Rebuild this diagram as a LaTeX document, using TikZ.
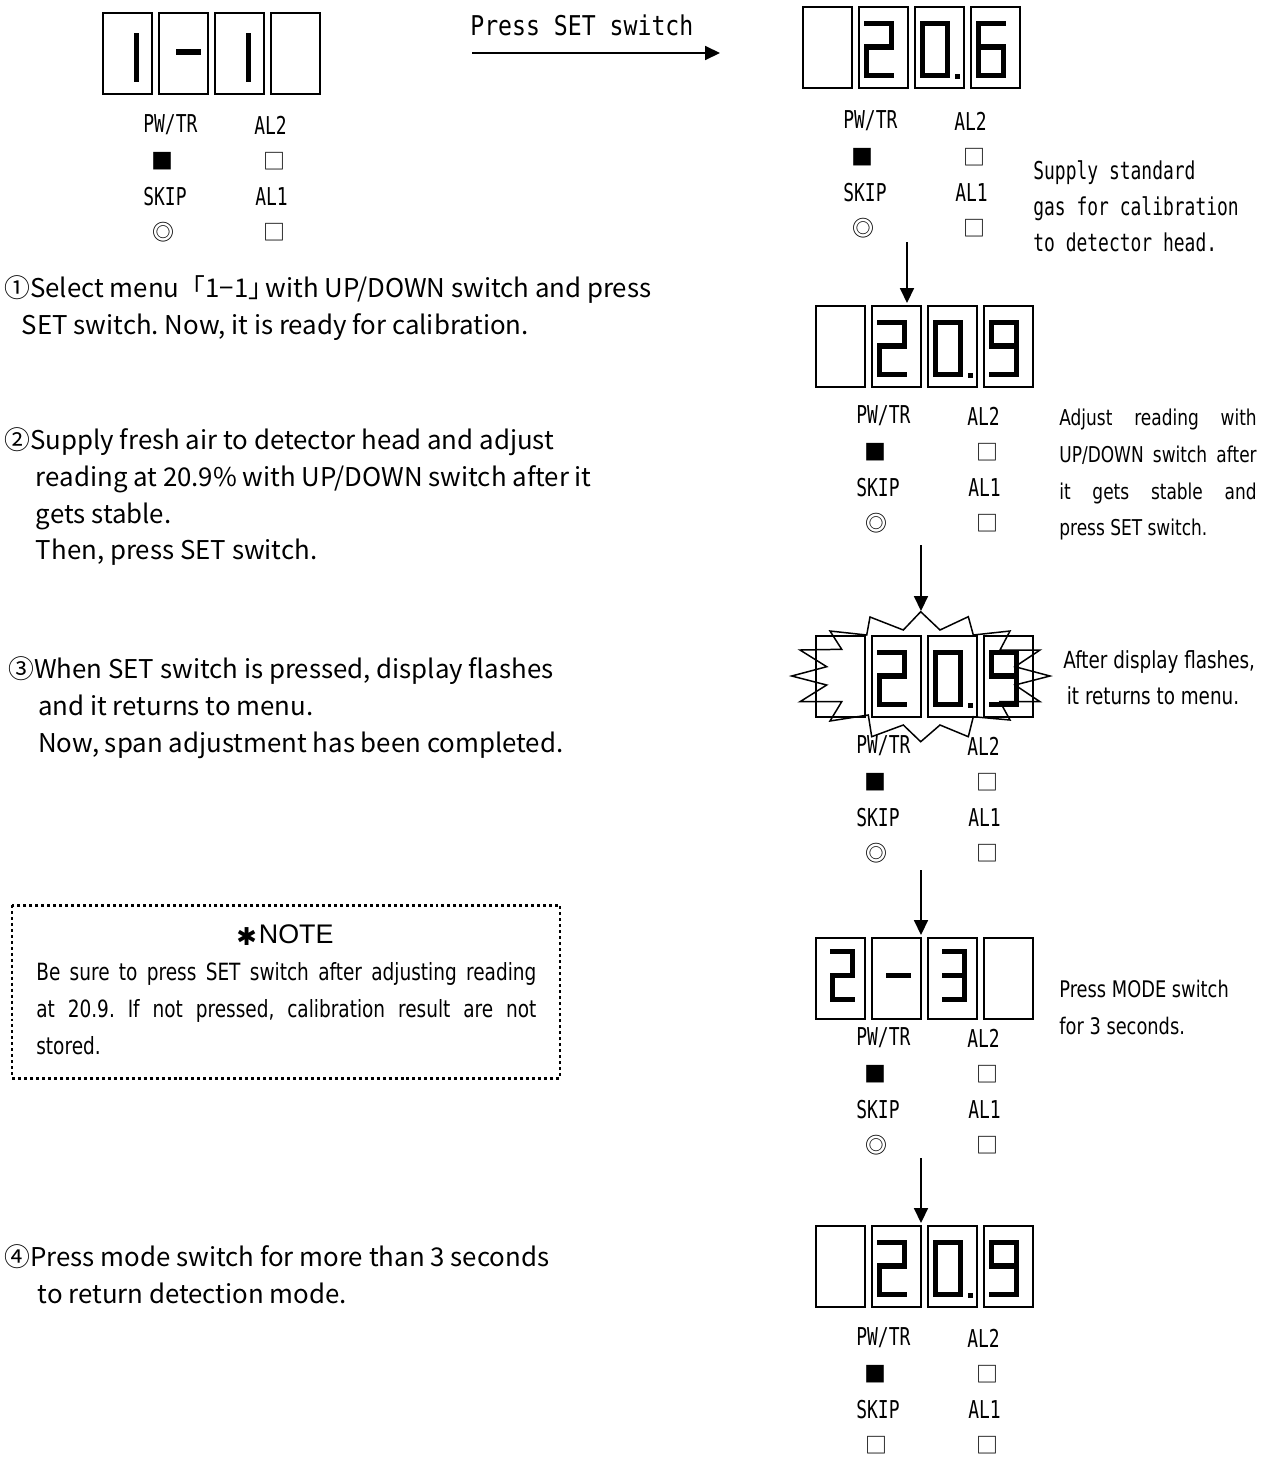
\documentclass[tikz,border=0pt]{standalone}
\usepackage{fontspec}
\usetikzlibrary{arrows.meta}
\newfontfamily\gothic{Noto Sans CJK JP}
\newfontfamily\lcdmono[FakeStretch=0.73]{DejaVu Sans Mono}
\newfontfamily\capmono[FakeStretch=0.85]{DejaVu Sans Mono}
\newfontfamily\narrow[FakeStretch=0.78]{DejaVu Sans}
\newfontfamily\dejavu{DejaVu Sans}
\newfontfamily\arial{Liberation Sans}
\frenchspacing

% seven segments, frame width \dw, height \dh, middle bar at \dm
\newcommand\sega{\draw[segline] (0,0) -- (\dw,0);}
\newcommand\segb{\draw[segline] (\dw,0) -- (\dw,\dm);}
\newcommand\segc{\draw[segline] (\dw,\dm) -- (\dw,\dh);}
\newcommand\segd{\draw[segline] (0,\dh) -- (\dw,\dh);}
\newcommand\sege{\draw[segline] (0,\dm) -- (0,\dh);}
\newcommand\segf{\draw[segline] (0,0) -- (0,\dm);}
\newcommand\segg{\draw[segline] (0,\dm) -- (\dw,\dm);}
\newcommand\lcddigit[3]{%
  \begin{scope}[shift={(#1,#2)}]
    \foreach \sg in {#3} {\csname seg\sg\endcsname}
  \end{scope}}

% four digit boxes and the lamp labels under them
\newcommand\lcdpanel[5]{%
  \foreach \k in {0,...,3}
    \draw[lcdbox] (#2+\k*56,#3) rectangle ++(49,81);
  \node[tag] (#1pw) at (#2+40,#3+#5) {PW/TR};
  \node[tag] (#1al2) at (#2+151,#3+#5) {AL2};
  \node[lamp] (#1run) at (#2+59,#3+#5+36) {■};
  \node[lamp] (#1lamp2) at (#2+171,#3+#5+36) {□};
  \node[tag] (#1skip) at (#2+40,#3+#5+72) {SKIP};
  \node[tag] (#1al1) at (#2+152,#3+#5+72) {AL1};
  \node[lamp] (#1sk) at (#2+60,#3+#5+107) {#4};
  \node[lamp] (#1lamp1) at (#2+171,#3+#5+107) {□};
}
% reading 20.x
\newcommand\readout[3]{%
  \lcddigit{#1+63.5}{#2+16.5}{a,b,g,e,d}
  \lcddigit{#1+119.5}{#2+16.5}{a,b,c,d,e,f}
  \fill (#1+151.5,#2+66.5) rectangle ++(5,5);
  \lcddigit{#1+175.5}{#2+16.5}{#3}}

\begin{document}
\begin{tikzpicture}[
  x=0.02cm, y=-0.02cm,
  lcdbox/.style={draw, line width=0.85pt},
  segline/.style={line width=3.3pt, line cap=rect},
  tag/.style={anchor=west, inner sep=0, font=\lcdmono\fontsize{14}{14}\selectfont},
  lamp/.style={inner sep=0, font=\gothic\fontsize{12.5}{12.5}\selectfont},
  arrow/.style={-{Triangle[length=8.5pt,width=8pt]}, line width=0.85pt},
  steptext/.style={anchor=north west, inner sep=0, align=left, font=\gothic\fontsize{14.7}{21}\selectfont},
  sidetext/.style={anchor=north west, inner sep=0, align=left, font=\narrow\fontsize{13}{20.8}\selectfont},
  flash/.style={draw, line width=0.85pt, line join=miter}
]
\useasboundingbox (0,0) rectangle (1263,1461);

% menu 1-1
\lcdpanel{mone}{103}{13}{◎}{112}
\def\dw{20}\def\dh{44}\def\dm{22}
\lcddigit{116.5}{35.5}{b,c}
\lcddigit{178.5}{30}{g}
\lcddigit{228.5}{35.5}{b,c}

\node[anchor=west, inner sep=0, font=\capmono\fontsize{15.5}{15.5}\selectfont] (pressset) at (470,25) {Press SET switch};
\coordinate (setfrom) at (472,53);
\coordinate (setto) at (720,53);
\draw[arrow] (setfrom) -- (setto);

% readings
\def\dw{25}\def\dh{52}\def\dm{23.5}
\lcdpanel{rone}{803}{7}{◎}{114}
\readout{803}{7}{a,f,g,e,d,c}
\lcdpanel{rtwo}{816}{306}{◎}{110}
\readout{816}{306}{a,b,c,d,f,g}
\draw[flash] (870,617) -- (903.3,630) -- (920.7,611.7) -- (940,630) -- (968.3,616.7)
  -- (973.3,635) -- (1010,631) -- (1000,650) -- (1040,650) -- (1015,666.7)
  -- (1050,676) -- (1015,685) -- (1040,701.7) -- (1000,701.7) -- (1010,720)
  -- (973.3,716.7) -- (968.3,736.7) -- (940,725) -- (920.7,741.7) -- (903.3,725)
  -- (871.7,736.7) -- (868.3,715) -- (830,721) -- (841.7,701.7) -- (800,701.7)
  -- (826.7,685) -- (791.7,676) -- (826.7,666.7) -- (800,650) -- (841.7,649.3)
  -- (830,631) -- (866.7,635) -- cycle;
\lcdpanel{rflash}{816}{636}{◎}{110}
\readout{816}{636}{a,b,c,d,f,g}

% menu 2-3
\lcdpanel{mtwo}{816}{938}{◎}{100}
\def\dw{20}\def\dh{48}\def\dm{24}
\lcddigit{832.5}{951.5}{a,b,g,e,d}
\lcddigit{888.5}{951.5}{g}
\lcddigit{944.5}{951.5}{a,b,g,c,d}

% back to detection
\def\dw{25}\def\dh{52}\def\dm{23.5}
\lcdpanel{rlast}{816}{1226}{□}{112}
\readout{816}{1226}{a,b,c,d,f,g}

% flow arrows
\coordinate (a1) at (907,242); \coordinate (b1) at (907,303);
\coordinate (a2) at (921,545); \coordinate (b2) at (921,611);
\coordinate (a3) at (921,870); \coordinate (b3) at (921,935);
\coordinate (a4) at (921,1158); \coordinate (b4) at (921,1223);
\foreach \i in {1,...,4}
  \draw[arrow] (a\i) -- (b\i);

% notes on the right
\node[anchor=north west, inner sep=0, align=left, font=\lcdmono\fontsize{14}{20.7}\selectfont] (supply) at (1033,160)
  {Supply standard\\gas for calibration\\to detector head.};
\node[sidetext, font=\narrow\fontsize{12.4}{20.8}\selectfont] (adjust) at (1059,409)
  {\makebox[112.3pt][s]{Adjust reading with}\\\makebox[112.3pt][s]{UP/DOWN switch after}\\\makebox[112.3pt][s]{it gets stable and}\\press SET switch.};
\node[sidetext, font=\narrow\fontsize{13.4}{20.8}\selectfont] (after) at (1063,650) {After display flashes,\\\hspace*{2pt}it returns to menu.};
\node[sidetext] (mode) at (1059,980) {Press MODE switch\\for 3 seconds.};

% steps on the left
\node[steptext] (step1) at (4,275)
  {①Select menu「1−1」\hspace{-5pt}with UP/DOWN switch and press\\\hspace*{10pt}SET switch. Now, it is ready for calibration.};
\node[steptext] (step2) at (4,427)
  {②Supply fresh air to detector head and adjust\\\hspace*{18pt}reading at 20.9\% with UP/DOWN switch after it\\\hspace*{18pt}gets stable.\\\hspace*{18pt}Then, press SET switch.};
\node[steptext] (step3) at (8,656)
  {③When SET switch is pressed, display flashes\\\hspace*{17pt}and it returns to menu.\\\hspace*{17pt}Now, span adjustment has been completed.};
\node[steptext] (step4) at (4,1244)
  {④Press mode switch for more than 3 seconds\\\hspace*{19pt}to return detection mode.};

% note box
\draw[line width=1.7pt, dash pattern=on 1.7pt off 1.7pt] (12,905) rectangle (560,1078);
\node[inner sep=0, font=\arial\fontsize{15.3}{15.3}\selectfont] (notetitle) at (285,935) {\raisebox{-1pt}{\dejavu\fontsize{14}{14}\selectfont ✱}\hspace{1pt}NOTE};
\node[sidetext, font=\narrow\fontsize{13.5}{21}\selectfont] (notebody) at (36,962)
  {\makebox[284.6pt][s]{Be sure to press SET switch after adjusting reading}\\\makebox[284.6pt][s]{at 20.9. If not pressed, calibration result are not}\\stored.};
\end{tikzpicture}
\end{document}
